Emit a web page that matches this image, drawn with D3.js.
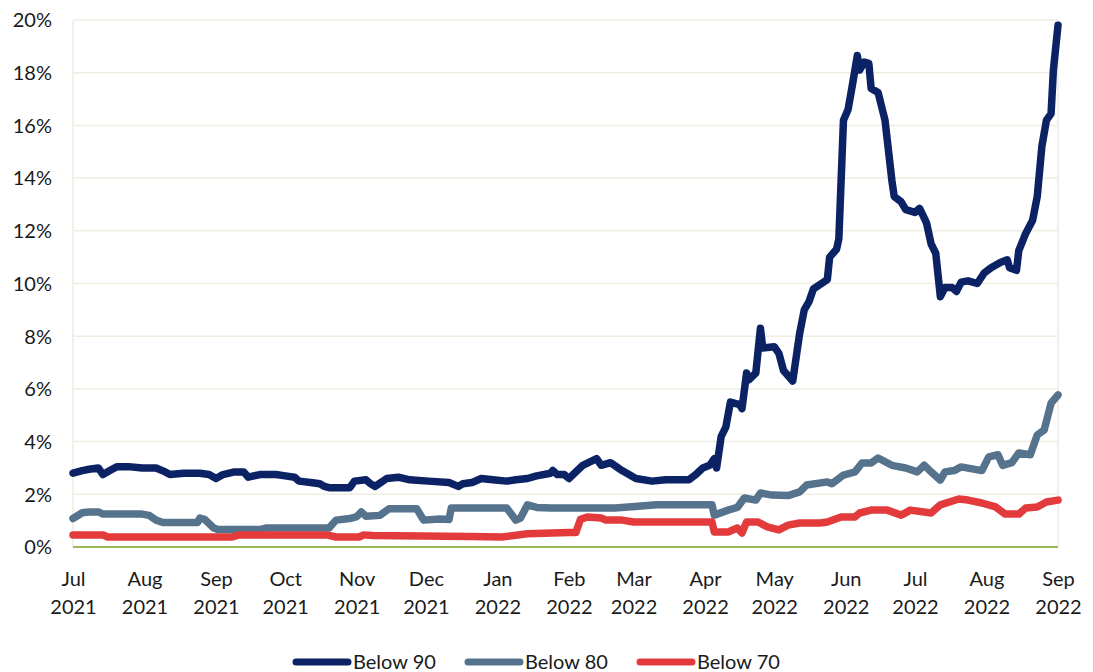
<!DOCTYPE html>
<html>
<head>
<meta charset="utf-8">
<script src="https://cdn.jsdelivr.net/npm/d3@7"></script>
<style>
  body { margin: 0; background: #ffffff; }
  svg text { font-family: Lato, "Open Sans", sans-serif; fill: #1a1a1a; }
</style>
</head>
<body>
<svg id="chart" width="1093" height="672"></svg>
<script>
// Share of readings below each threshold, in percent
const below90Dates = [
  "2021-07-01","2021-07-05","2021-07-08","2021-07-12","2021-07-14","2021-07-17","2021-07-20","2021-07-25","2021-07-31",
  "2021-08-06","2021-08-10","2021-08-12","2021-08-18","2021-08-25","2021-08-29",
  "2021-09-01","2021-09-04","2021-09-09","2021-09-13","2021-09-15","2021-09-20","2021-09-27",
  "2021-10-01","2021-10-05","2021-10-07","2021-10-12","2021-10-16","2021-10-18","2021-10-20","2021-10-29","2021-10-31",
  "2021-11-05","2021-11-07","2021-11-09","2021-11-14","2021-11-19","2021-11-24",
  "2021-12-02","2021-12-11","2021-12-15","2021-12-17","2021-12-21","2021-12-25","2021-12-30",
  "2022-01-05","2022-01-09","2022-01-14","2022-01-18","2022-01-24","2022-01-25","2022-01-27","2022-01-30",
  "2022-02-01","2022-02-07","2022-02-13","2022-02-15","2022-02-19","2022-02-24",
  "2022-03-02","2022-03-09","2022-03-15","2022-03-25","2022-03-28","2022-03-31",
  "2022-04-03","2022-04-05","2022-04-06","2022-04-08","2022-04-10","2022-04-12","2022-04-16","2022-04-17","2022-04-19","2022-04-20","2022-04-23","2022-04-25","2022-04-26",
  "2022-05-01","2022-05-03","2022-05-05","2022-05-09","2022-05-12","2022-05-14","2022-05-16","2022-05-18","2022-05-24","2022-05-25","2022-05-28","2022-05-29","2022-05-31",
  "2022-06-02","2022-06-04","2022-06-06","2022-06-07","2022-06-09","2022-06-11","2022-06-12","2022-06-15","2022-06-18","2022-06-21","2022-06-22","2022-06-25","2022-06-27",
  "2022-07-01","2022-07-03","2022-07-06","2022-07-08","2022-07-10","2022-07-12","2022-07-14","2022-07-17","2022-07-19","2022-07-21","2022-07-24","2022-07-28","2022-07-31",
  "2022-08-03","2022-08-07","2022-08-10","2022-08-11","2022-08-14","2022-08-15","2022-08-18","2022-08-21","2022-08-23","2022-08-25","2022-08-27","2022-08-29","2022-08-30","2022-09-01"
];
const below90Values = [
  2.8,2.9,2.95,3.0,2.75,2.9,3.05,3.05,3.0,
  3.0,2.85,2.75,2.8,2.8,2.75,
  2.6,2.75,2.85,2.85,2.65,2.75,2.75,
  2.7,2.65,2.5,2.45,2.4,2.3,2.25,2.25,2.5,
  2.55,2.4,2.3,2.6,2.65,2.55,
  2.5,2.45,2.3,2.4,2.45,2.6,2.55,
  2.5,2.55,2.6,2.7,2.8,2.9,2.75,2.75,
  2.6,3.1,3.35,3.1,3.2,2.9,
  2.6,2.5,2.55,2.55,2.75,3.0,
  3.1,3.35,3.0,4.2,4.55,5.5,5.4,5.25,6.6,6.35,6.6,8.3,7.55,
  7.6,7.35,6.7,6.3,8.1,9.0,9.3,9.8,10.15,11.0,11.3,11.7,16.2,
  16.6,17.6,18.65,18.1,18.4,18.35,17.4,17.25,16.2,13.9,13.3,13.1,12.8,
  12.7,12.85,12.3,11.5,11.15,9.5,9.85,9.85,9.7,10.05,10.1,10.0,10.4,
  10.6,10.8,10.9,10.6,10.5,11.25,11.9,12.4,13.3,15.2,16.2,16.45,18.1,19.8
];

const below80Dates = [
  "2021-07-01","2021-07-05","2021-07-08","2021-07-12","2021-07-14","2021-07-31",
  "2021-08-03","2021-08-06","2021-08-09","2021-08-24","2021-08-25","2021-08-27","2021-08-31",
  "2021-09-02","2021-09-20","2021-09-23",
  "2021-10-20","2021-10-23","2021-10-29",
  "2021-11-01","2021-11-03","2021-11-05","2021-11-11","2021-11-15","2021-11-27","2021-11-30",
  "2021-12-07","2021-12-11","2021-12-12",
  "2022-01-05","2022-01-09","2022-01-11","2022-01-14","2022-01-18","2022-01-24",
  "2022-02-21","2022-03-03","2022-03-11",
  "2022-04-04","2022-04-05","2022-04-11","2022-04-15","2022-04-18","2022-04-23","2022-04-25","2022-04-30",
  "2022-05-07","2022-05-12","2022-05-15","2022-05-24","2022-05-26","2022-05-31",
  "2022-06-05","2022-06-08","2022-06-12","2022-06-15","2022-06-21","2022-06-27",
  "2022-07-02","2022-07-05","2022-07-08","2022-07-12","2022-07-14","2022-07-18","2022-07-21","2022-07-30",
  "2022-08-02","2022-08-06","2022-08-08","2022-08-12","2022-08-15","2022-08-20","2022-08-23","2022-08-26","2022-08-29","2022-09-01"
];
const below80Values = [
  1.08,1.3,1.33,1.33,1.25,1.25,
  1.2,1.02,0.93,0.93,1.1,1.05,0.72,
  0.66,0.66,0.72,
  0.72,1.02,1.08,
  1.15,1.33,1.17,1.2,1.45,1.45,1.02,
  1.06,1.04,1.48,
  1.48,1.02,1.1,1.6,1.5,1.48,
  1.48,1.55,1.6,
  1.6,1.21,1.4,1.5,1.86,1.78,2.05,1.97,
  1.95,2.09,2.35,2.47,2.4,2.73,
  2.85,3.19,3.19,3.38,3.1,3.0,
  2.85,3.1,2.85,2.54,2.85,2.9,3.04,2.9,
  3.42,3.5,3.1,3.2,3.57,3.5,4.25,4.44,5.46,5.77
];

const below70Dates = [
  "2021-07-01","2021-07-14","2021-07-16",
  "2021-09-08","2021-09-11",
  "2021-10-19","2021-10-23",
  "2021-11-02","2021-11-04","2021-11-08",
  "2021-12-20",
  "2022-01-03","2022-01-14",
  "2022-02-01","2022-02-04","2022-02-06","2022-02-09","2022-02-15","2022-02-17","2022-02-24",
  "2022-03-01","2022-04-04","2022-04-05","2022-04-11","2022-04-15","2022-04-17","2022-04-19","2022-04-24","2022-04-28",
  "2022-05-03","2022-05-07","2022-05-12","2022-05-21","2022-05-24","2022-05-30",
  "2022-06-05","2022-06-07","2022-06-12","2022-06-19","2022-06-25","2022-06-29",
  "2022-07-08","2022-07-12","2022-07-20","2022-07-24","2022-07-30",
  "2022-08-05","2022-08-09","2022-08-15","2022-08-18","2022-08-23","2022-08-27","2022-09-01"
];
const below70Values = [
  0.46,0.46,0.38,
  0.38,0.46,
  0.46,0.38,
  0.38,0.46,0.44,
  0.4,
  0.38,0.5,
  0.55,0.55,1.05,1.14,1.1,1.02,1.02,
  0.95,0.95,0.57,0.57,0.72,0.53,0.95,0.95,0.76,
  0.65,0.83,0.91,0.91,0.95,1.14,
  1.14,1.29,1.4,1.4,1.21,1.4,
  1.29,1.6,1.82,1.78,1.67,
  1.52,1.25,1.25,1.48,1.52,1.71,1.78
];

const seriesNames = ["Below 90", "Below 80", "Below 70"];
const seriesColors = ["#0b2264", "#56738d", "#e33b3b"];
const yTickValues = [0, 2, 4, 6, 8, 10, 12, 14, 16, 18, 20];
const xDomain = ["2021-07-01", "2022-09-01"];

const parse = d3.utcParse("%Y-%m-%d");
const series = [
  { name: seriesNames[0], color: seriesColors[0], dates: below90Dates, values: below90Values },
  { name: seriesNames[1], color: seriesColors[1], dates: below80Dates, values: below80Values },
  { name: seriesNames[2], color: seriesColors[2], dates: below70Dates, values: below70Values }
].map(s => ({ ...s, points: s.dates.map((d, i) => ({ date: parse(d), value: s.values[i] })) }));

const svg = d3.select("#chart");
const margin = { top: 20, right: 35, bottom: 125, left: 73 };
const width = 1093, height = 672;

const x = d3.scaleUtc()
  .domain(xDomain.map(parse))
  .range([margin.left, width - margin.right]);
const y = d3.scaleLinear()
  .domain([0, 20])
  .range([height - margin.bottom, margin.top]);

// Horizontal gridlines and plot frame
const grid = svg.append("g").attr("class", "grid");
grid.selectAll("line.h")
  .data(yTickValues.filter(v => v > 0))
  .join("line")
  .attr("x1", x.range()[0]).attr("x2", x.range()[1])
  .attr("y1", d => y(d)).attr("y2", d => y(d))
  .attr("stroke", "#efede2").attr("stroke-width", 1.5);
grid.append("line")
  .attr("x1", x.range()[0]).attr("x2", x.range()[0])
  .attr("y1", y(20)).attr("y2", y(0))
  .attr("stroke", "#eeecdf").attr("stroke-width", 1.5);
grid.append("line")
  .attr("x1", x.range()[1]).attr("x2", x.range()[1])
  .attr("y1", y(20)).attr("y2", y(0))
  .attr("stroke", "#eeecdf").attr("stroke-width", 1.5);

// Y axis
const yAxis = svg.append("g")
  .attr("transform", `translate(${margin.left},0)`)
  .call(d3.axisLeft(y).tickValues(yTickValues).tickSize(0).tickPadding(21).tickFormat(d => d + "%"));
yAxis.select(".domain").remove();
yAxis.selectAll("text").attr("font-size", 20).attr("fill", "#1a1a1a").attr("dy", "0.34em");

// X axis: month and year on two lines
const monthTicks = d3.utcMonth.range(x.domain()[0], d3.utcDay.offset(x.domain()[1], 1));
const xAxis = svg.append("g")
  .attr("transform", `translate(0,${y(0)})`)
  .call(d3.axisBottom(x).tickValues(monthTicks).tickSize(0).tickFormat(""));
xAxis.select(".domain").remove();
xAxis.selectAll(".tick").each(function (d) {
  const t = d3.select(this).append("text")
    .attr("font-size", 20).attr("fill", "#1a1a1a").attr("text-anchor", "middle");
  t.append("tspan").attr("x", 0).attr("y", 39).text(d3.utcFormat("%b")(d));
  t.append("tspan").attr("x", 0).attr("y", 67).text(d3.utcFormat("%Y")(d));
});

// Baseline
svg.append("line")
  .attr("x1", x.range()[0]).attr("x2", x.range()[1])
  .attr("y1", y(0)).attr("y2", y(0))
  .attr("stroke", "#9bbb59").attr("stroke-width", 2);

// Series lines
const line = d3.line().x(d => x(d.date)).y(d => y(d.value));
svg.append("g").selectAll("path")
  .data(series)
  .join("path")
  .attr("d", d => line(d.points))
  .attr("fill", "none")
  .attr("stroke", d => d.color)
  .attr("stroke-width", 7.5)
  .attr("stroke-linecap", "round")
  .attr("stroke-linejoin", "round");

// Legend
const legendX = [296, 468, 640];
const legend = svg.append("g").attr("transform", "translate(0,662)");
const items = legend.selectAll("g").data(series).join("g")
  .attr("transform", (d, i) => `translate(${legendX[i]},0)`);
items.append("line")
  .attr("x1", 0).attr("x2", 52).attr("y1", 0).attr("y2", 0)
  .attr("stroke", d => d.color).attr("stroke-width", 7).attr("stroke-linecap", "round");
items.append("text")
  .attr("x", 57).attr("y", 0).attr("dy", "0.35em")
  .attr("font-size", 20).attr("fill", "#1a1a1a")
  .text(d => d.name);
</script>
</body>
</html>
